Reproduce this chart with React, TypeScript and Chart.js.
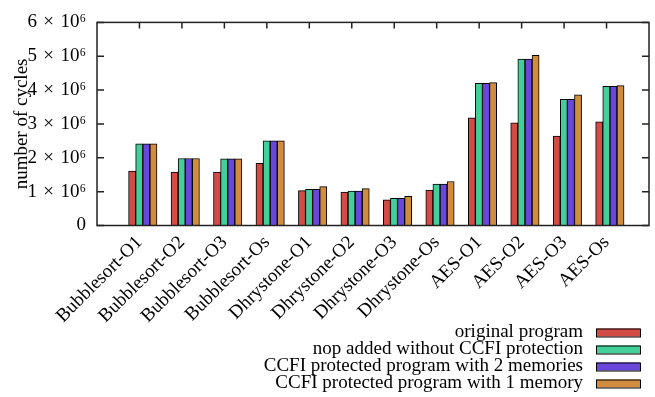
import React, { useEffect, useRef } from 'react';
import { Chart, registerables } from 'chart.js';

Chart.register(...registerables);

const categories = [
  'Bubblesort-O1', 'Bubblesort-O2', 'Bubblesort-O3', 'Bubblesort-Os',
  'Dhrystone-O1', 'Dhrystone-O2', 'Dhrystone-O3', 'Dhrystone-Os',
  'AES-O1', 'AES-O2', 'AES-O3', 'AES-Os',
];

const seriesNames = [
  'original program',
  'nop added without CCFI protection',
  'CCFI protected program with 2 memories',
  'CCFI protected program with 1 memory',
];

const seriesColors = ['#d24b45', '#42cf99', '#6947db', '#d18c3e'];

const originalProgram = [1.61e6, 1.58e6, 1.58e6, 1.84e6, 1.03e6, 0.99e6, 0.76e6, 1.05e6, 3.18e6, 3.03e6, 2.64e6, 3.06e6];
const nopAdded = [2.41e6, 1.98e6, 1.97e6, 2.50e6, 1.07e6, 1.02e6, 0.80e6, 1.22e6, 4.20e6, 4.92e6, 3.73e6, 4.11e6];
const ccfiTwoMemories = [2.41e6, 1.98e6, 1.97e6, 2.50e6, 1.07e6, 1.02e6, 0.80e6, 1.22e6, 4.20e6, 4.92e6, 3.73e6, 4.11e6];
const ccfiOneMemory = [2.41e6, 1.98e6, 1.97e6, 2.50e6, 1.15e6, 1.09e6, 0.86e6, 1.30e6, 4.22e6, 5.03e6, 3.86e6, 4.13e6];

const yTickValues = [0, 1e6, 2e6, 3e6, 4e6, 5e6, 6e6];

const seriesValues = [originalProgram, nopAdded, ccfiTwoMemories, ccfiOneMemory];

const FONT = "'Liberation Serif', 'Times New Roman', serif";
const FONT_SIZE = 19;
const BAR_SHIFT = 0.078;

const framePlugin = {
  id: 'gnuplotFrame',
  afterDatasetsDraw(chart: any) {
    const { ctx, chartArea } = chart;
    const { left, right, top, bottom } = chartArea;
    const xs = chart.scales.xl;
    const ys = chart.scales.y;
    ctx.save();
    ctx.strokeStyle = '#222';
    ctx.lineWidth = 1.5;
    ctx.beginPath();
    xs.ticks.forEach((t: any) => {
      if (t.value < 0 || t.value >= categories.length) return;
      const px = xs.getPixelForValue(t.value);
      ctx.moveTo(px, top);
      ctx.lineTo(px, top + 6);
    });
    ys.ticks.forEach((t: any) => {
      const py = ys.getPixelForValue(t.value);
      ctx.moveTo(left, py);
      ctx.lineTo(left + 7, py);
      ctx.moveTo(right, py);
      ctx.lineTo(right - 7, py);
    });
    ctx.stroke();
    ctx.strokeRect(left, top, right - left, bottom - top);
    ctx.restore();
  },
};

const legendPlugin = {
  id: 'gnuplotLegend',
  afterDraw(chart: any) {
    const { ctx, chartArea } = chart;
    const boxRight = chartArea.right - 9;
    const boxLeft = boxRight - 44;
    const textRight = boxLeft - 13;
    const firstY = chartArea.bottom + 107;
    const rowH = 17;
    ctx.save();
    ctx.font = `${FONT_SIZE}px ${FONT}`;
    ctx.textAlign = 'right';
    ctx.textBaseline = 'middle';
    chart.data.datasets.forEach((ds: any, i: number) => {
      const cy = firstY + i * rowH;
      ctx.fillStyle = '#000';
      ctx.fillText(ds.label, textRight, cy);
      ctx.fillStyle = ds.backgroundColor;
      ctx.fillRect(boxLeft, cy - 4, 44, 8);
      ctx.strokeStyle = '#000';
      ctx.lineWidth = 1;
      ctx.strokeRect(boxLeft + 0.5, cy - 4 + 0.5, 44, 8);
    });
    ctx.restore();
  },
};

export default function App() {
  const canvasRef = useRef<HTMLCanvasElement>(null);

  useEffect(() => {
    if (!canvasRef.current) return;
    Chart.defaults.font.family = FONT;
    const chart = new Chart(canvasRef.current, {
      type: 'bar',
      data: {
        datasets: seriesValues.map((vals, si) => ({
          label: seriesNames[si],
          data: vals.map((v, i) => ({ x: i, y: v })),
          backgroundColor: seriesColors[si],
          borderColor: '#000',
          borderWidth: 1,
          barThickness: 7.1,
          xAxisID: 'x',
          yAxisID: 'y',
        })),
      },
      options: {
        animation: false,
        responsive: false,
        layout: { padding: { top: 15, right: 6, left: 0, bottom: 0 } },
        plugins: {
          legend: { display: false },
          tooltip: { enabled: false },
        },
        scales: {
          x: {
            type: 'linear',
            display: false,
            offset: false,
            grid: { offset: false },
            min: -1 - BAR_SHIFT,
            max: categories.length - BAR_SHIFT,
          },
          xl: {
            type: 'linear',
            position: 'bottom',
            offset: false,
            min: -1,
            max: categories.length,
            grid: { display: false, drawTicks: false, offset: false },
            border: { display: false },
            ticks: {
              stepSize: 1,
              autoSkip: false,
              maxRotation: 45,
              minRotation: 45,
              padding: 6,
              color: '#000',
              font: { size: FONT_SIZE, family: FONT },
              callback: (v: any) => categories[v as number] ?? '',
            },
            afterFit: (s: any) => {
              s.height = 171.5;
              s.paddingLeft = 0;
              s.paddingRight = 0;
            },
          },
          y: {
            type: 'linear',
            min: 0,
            max: 6e6,
            grid: { display: false, drawTicks: false },
            border: { display: false },
            afterBuildTicks: (s: any) => {
              s.ticks = yTickValues.map((v) => ({ value: v }));
            },
            ticks: {
              padding: 11,
              color: '#000',
              font: { size: FONT_SIZE, family: FONT },
              callback: (v: any) => (v === 0 ? '0' : `${(v as number) / 1e6}\u200A × \u200A10⁶`),
            },
            title: {
              display: true,
              text: 'number of cycles',
              color: '#000',
              font: { size: FONT_SIZE, family: FONT },
              padding: { top: 11, bottom: 0 },
            },
            afterFit: (s: any) => {
              s.width = 97;
            },
          },
        },
      },
      plugins: [framePlugin, legendPlugin],
    });
    return () => chart.destroy();
  }, []);

  return (
    <div style={{ position: 'fixed', left: 0, top: 0, width: 655, height: 397, background: '#fff' }}>
      <canvas ref={canvasRef} width={655} height={397} />
    </div>
  );
}
